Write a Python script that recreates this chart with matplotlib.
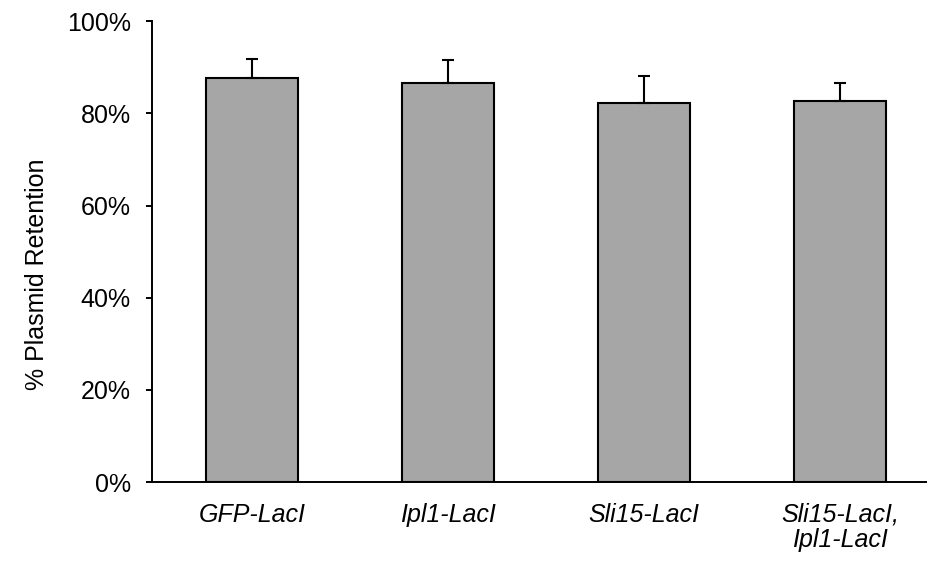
import matplotlib
matplotlib.use('Agg')
import matplotlib.pyplot as plt
from matplotlib.ticker import PercentFormatter

# Datos
cepas = ['GFP-LacI', 'Ipl1-LacI', 'Sli15-LacI', 'Sli15-LacI,\nIpl1-LacI']
retencion = [87.6, 86.7, 82.2, 82.6]
error = [4.3, 5.0, 5.9, 4.1]

plt.rcParams['font.family'] = ['Liberation Sans', 'DejaVu Sans']

fig = plt.figure(figsize=(9.28, 5.61), dpi=100)
ax = fig.add_axes([0.1638, 0.1408, 0.847, 0.8212])

x = list(range(len(cepas)))
ax.bar(x, retencion, width=0.467, color='#A6A6A6', edgecolor='black', linewidth=1.5, zorder=2)
ax.errorbar(x, retencion, yerr=[[0] * len(error), error], fmt='none', ecolor='black',
            elinewidth=1.5, capsize=4.5, capthick=1.5, zorder=3)

ax.set_xlim(-0.51, 3.5)
ax.set_ylim(0, 100)
ax.set_yticks([0, 20, 40, 60, 80, 100])
ax.yaxis.set_major_formatter(PercentFormatter(decimals=0))
ax.set_xticks(x)
ax.set_xticklabels(cepas, fontstyle='italic', fontsize=18, linespacing=1.06)
ax.tick_params(axis='x', length=0, pad=15)
ax.tick_params(axis='y', direction='out', length=4.3, width=1.4, labelsize=18, pad=11)

for lado in ['top', 'right']:
    ax.spines[lado].set_visible(False)
ax.spines['left'].set_linewidth(1.4)
ax.spines['bottom'].set_linewidth(1.4)

ax.set_ylabel('% Plasmid Retention', fontsize=18)
ax.yaxis.set_label_coords(-0.131, 0.45)

plt.savefig('out.png', dpi=100)
